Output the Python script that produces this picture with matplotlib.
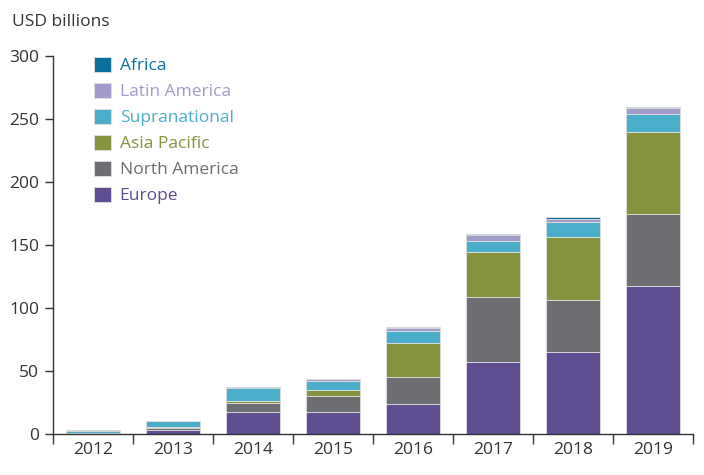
import matplotlib.pyplot as plt
import numpy as np

plt.rcParams['font.family'] = ['Open Sans', 'DejaVu Sans']

years = ['2012', '2013', '2014', '2015', '2016', '2017', '2018', '2019']

# values in USD billions, stacked bottom -> top
europe = [0.8, 3.5, 17.2, 17.2, 23.8, 56.9, 65.3, 117.5]
north_america = [0.1, 1.2, 7.6, 13.2, 21.2, 51.6, 40.8, 57.4]
asia_pacific = [0.1, 0.8, 1.6, 4.3, 27.0, 36.2, 50.0, 64.6]
supranational = [1.5, 5.0, 9.8, 7.6, 10.0, 8.7, 12.5, 14.5]
latin_america = [0.1, 0.2, 0.2, 1.3, 2.1, 4.5, 2.4, 4.8]
africa = [0.2, 0.0, 0.8, 0.0, 0.8, 0.8, 1.1, 0.8]

series = [
    ('Europe', europe, '#5f4d91'),
    ('North America', north_america, '#6d6e71'),
    ('Asia Pacific', asia_pacific, '#86923d'),
    ('Supranational', supranational, '#4aaecb'),
    ('Latin America', latin_america, '#a19bcc'),
    ('Africa', africa, '#0b709e'),
]

fig = plt.figure(figsize=(7.04, 4.75), dpi=100)
ax = fig.add_axes([53 / 704, 41 / 475, 640 / 704, 378 / 475])

x = np.arange(len(years))
bottom = np.zeros(len(years))
handles = []
for name, vals, col in series:
    b = ax.bar(x, vals, width=0.67, bottom=bottom, color=col,
               edgecolor='#e0e0e0', linewidth=0.6, label=name)
    handles.append(b)
    bottom += np.array(vals)

ax.set_xlim(-0.5, len(years) - 0.5)
ax.set_ylim(0, 300)
ax.set_yticks(range(0, 301, 50))
ax.set_xticks(x)
ax.set_xticklabels(years)
ax.set_xticks(np.arange(-0.5, len(years), 1), minor=True)
ax.tick_params(axis='x', which='major', length=0, labelsize=12.5, colors='#333333', pad=6)
ax.tick_params(axis='x', which='minor', length=7, width=1, color='#333333')
ax.tick_params(axis='y', length=6, width=1, labelsize=12.5, colors='#333333', pad=4)

for s in ['top', 'right']:
    ax.spines[s].set_visible(False)
for s in ['left', 'bottom']:
    ax.spines[s].set_color('#333333')
    ax.spines[s].set_linewidth(1)

fig.text(12 / 704, 1 - 22 / 475, 'USD billions', fontsize=12.5, color='#333333', va='center')

leg = ax.legend(handles[::-1], [s[0] for s in series][::-1], loc='upper left',
                bbox_to_anchor=(0.039, 1.04), frameon=False, fontsize=12.5,
                handlelength=1.0, handleheight=1.0, handletextpad=0.5, labelspacing=0.48)
for t, (name, vals, col) in zip(leg.get_texts(), series[::-1]):
    t.set_color(col)

fig.savefig('out.png', dpi=100)
